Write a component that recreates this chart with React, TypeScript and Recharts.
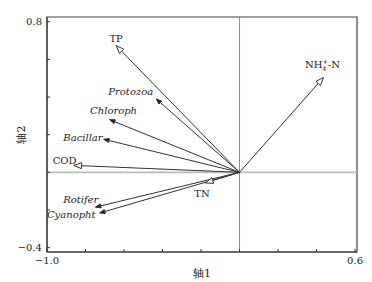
import React from 'react';
import { ScatterChart, Scatter, XAxis, YAxis, ReferenceLine, ReferenceArea } from 'recharts';

const names = ['TP', 'Protozoa', 'Chloroph', 'Bacillar', 'COD', 'Rotifer', 'Cyanopht', 'TN', 'NH4'];
const axis1 = [-0.641, -0.433, -0.675, -0.706, -0.862, -0.749, -0.727, -0.179, 0.436];
const axis2 = [0.673, 0.39, 0.28, 0.176, 0.037, -0.185, -0.216, -0.056, 0.504];
const isEnv = [true, false, false, false, true, false, false, true, true];
const xTicks = [-1, -0.8, -0.6, -0.4, -0.2, 0, 0.2, 0.4, 0.6];
const yTicks = [-0.4, -0.2, 0, 0.2, 0.4, 0.6, 0.8];
const xDomain = [-1, 0.61];
const yDomain = [-0.423, 0.825];

// label placement (px offsets from the arrow tip) — styling only
const labelStyle: Record<string, { dx: number; dy: number; anchor: 'start' | 'middle' | 'end' }> = {
  TP: { dx: 0, dy: -4, anchor: 'middle' },
  Protozoa: { dx: -3, dy: -4, anchor: 'end' },
  Chloroph: { dx: 4, dy: -6, anchor: 'middle' },
  Bacillar: { dx: -1, dy: 2, anchor: 'end' },
  COD: { dx: 3, dy: -1, anchor: 'end' },
  Rotifer: { dx: 3, dy: -4, anchor: 'end' },
  Cyanopht: { dx: -4, dy: 5, anchor: 'end' },
  TN: { dx: -3, dy: 14, anchor: 'middle' },
  NH4: { dx: -1, dy: -9, anchor: 'middle' },
};

const FONT = '"DejaVu Serif", serif';
const FS = 10;
const points = names.map((n, i) => ({ name: n, x: axis1[i], y: axis2[i], env: isEnv[i] }));

function makeArrow(name: string, env: boolean) {
  return (p: any) => {
    const { x1, y1, x2, y2 } = p;
    const dx = x2 - x1;
    const dy = y2 - y1;
    const len = Math.sqrt(dx * dx + dy * dy) || 1;
    const ux = dx / len;
    const uy = dy / len;
    const hl = env ? 8 : 5.5;
    const hw = env ? 3 : 2;
    const bx = x2 - ux * hl;
    const by = y2 - uy * hl;
    const pts = `${x2},${y2} ${bx - uy * hw},${by + ux * hw} ${bx + uy * hw},${by - ux * hw}`;
    const ls = labelStyle[name];
    const lx = x2 + ls.dx;
    const ly = y2 + ls.dy;
    const tstyle = { fontFamily: FONT, fontSize: FS };
    let label: React.ReactNode;
    if (name === 'NH4') {
      label = (
        <text x={lx} y={ly} textAnchor={ls.anchor} style={tstyle} fill="#222">
          <tspan>NH</tspan>
          <tspan fontSize={6.5} dy={3}>4</tspan>
          <tspan fontSize={6.5} dx={-4} dy={-7}>+</tspan>
          <tspan dy={4}>-N</tspan>
        </text>
      );
    } else {
      label = (
        <text x={lx} y={ly} textAnchor={ls.anchor} style={{ ...tstyle, fontStyle: env ? 'normal' : 'italic' }} fill="#222">
          {name}
        </text>
      );
    }
    return (
      <g>
        <line x1={x1} y1={y1} x2={bx} y2={by} stroke="#333" strokeWidth={1} />
        <polygon points={pts} fill={env ? '#fff' : '#222'} stroke="#333" strokeWidth={1} />
        {label}
      </g>
    );
  };
}

const fmtX = (v: number) => (v === -1 ? '\u22121.0' : v === 0.6 ? '0.6' : '');
const fmtY = (v: number) => (v === -0.4 ? '\u22120.4' : v === 0.8 ? '0.8' : '');

export default function App() {
  return (
    <div style={{ position: 'absolute', left: 0, top: 0, background: '#fff', fontFamily: FONT }}>
      <ScatterChart width={372} height={282} margin={{ top: 17, right: 15, bottom: 0, left: 0 }} style={{ fontFamily: FONT }}>
        <XAxis
          type="number"
          dataKey="x"
          domain={xDomain}
          allowDataOverflow
          ticks={xTicks}
          tickFormatter={fmtX}
          tickSize={-3}
          tickMargin={8}
          height={30}
          stroke="#333"
          tick={{ fill: '#222', fontSize: FS, style: { fontFamily: FONT } }}
          label={{ value: '轴1', position: 'insideBottom', offset: 5, fill: '#222', fontSize: 11, style: { fontFamily: FONT } }}
        />
        <YAxis
          type="number"
          dataKey="y"
          domain={yDomain}
          allowDataOverflow
          ticks={yTicks}
          tickFormatter={fmtY}
          tickSize={-3}
          tickMargin={8}
          width={47}
          stroke="#333"
          tick={{ fill: '#222', fontSize: FS, style: { fontFamily: FONT } }}
          label={{ value: '轴2', angle: -90, position: 'center', dx: -2, fill: '#222', fontSize: 11, style: { fontFamily: FONT } }}
        />
        <ReferenceArea x1={xDomain[0]} x2={xDomain[1]} y1={yDomain[0]} y2={yDomain[1]} fill="none" stroke="#444" strokeWidth={1.2} />
        <ReferenceLine y={0} stroke="#bbb" strokeWidth={1.6} />
        <ReferenceLine x={0} stroke="#888" strokeWidth={1} />
        {points.map((p) => (
          <ReferenceLine
            key={p.name}
            segment={[{ x: 0, y: 0 }, { x: p.x, y: p.y }]}
            shape={makeArrow(p.name, p.env)}
          />
        ))}
        <Scatter data={points} isAnimationActive={false} shape={() => <g />} />
      </ScatterChart>
    </div>
  );
}
